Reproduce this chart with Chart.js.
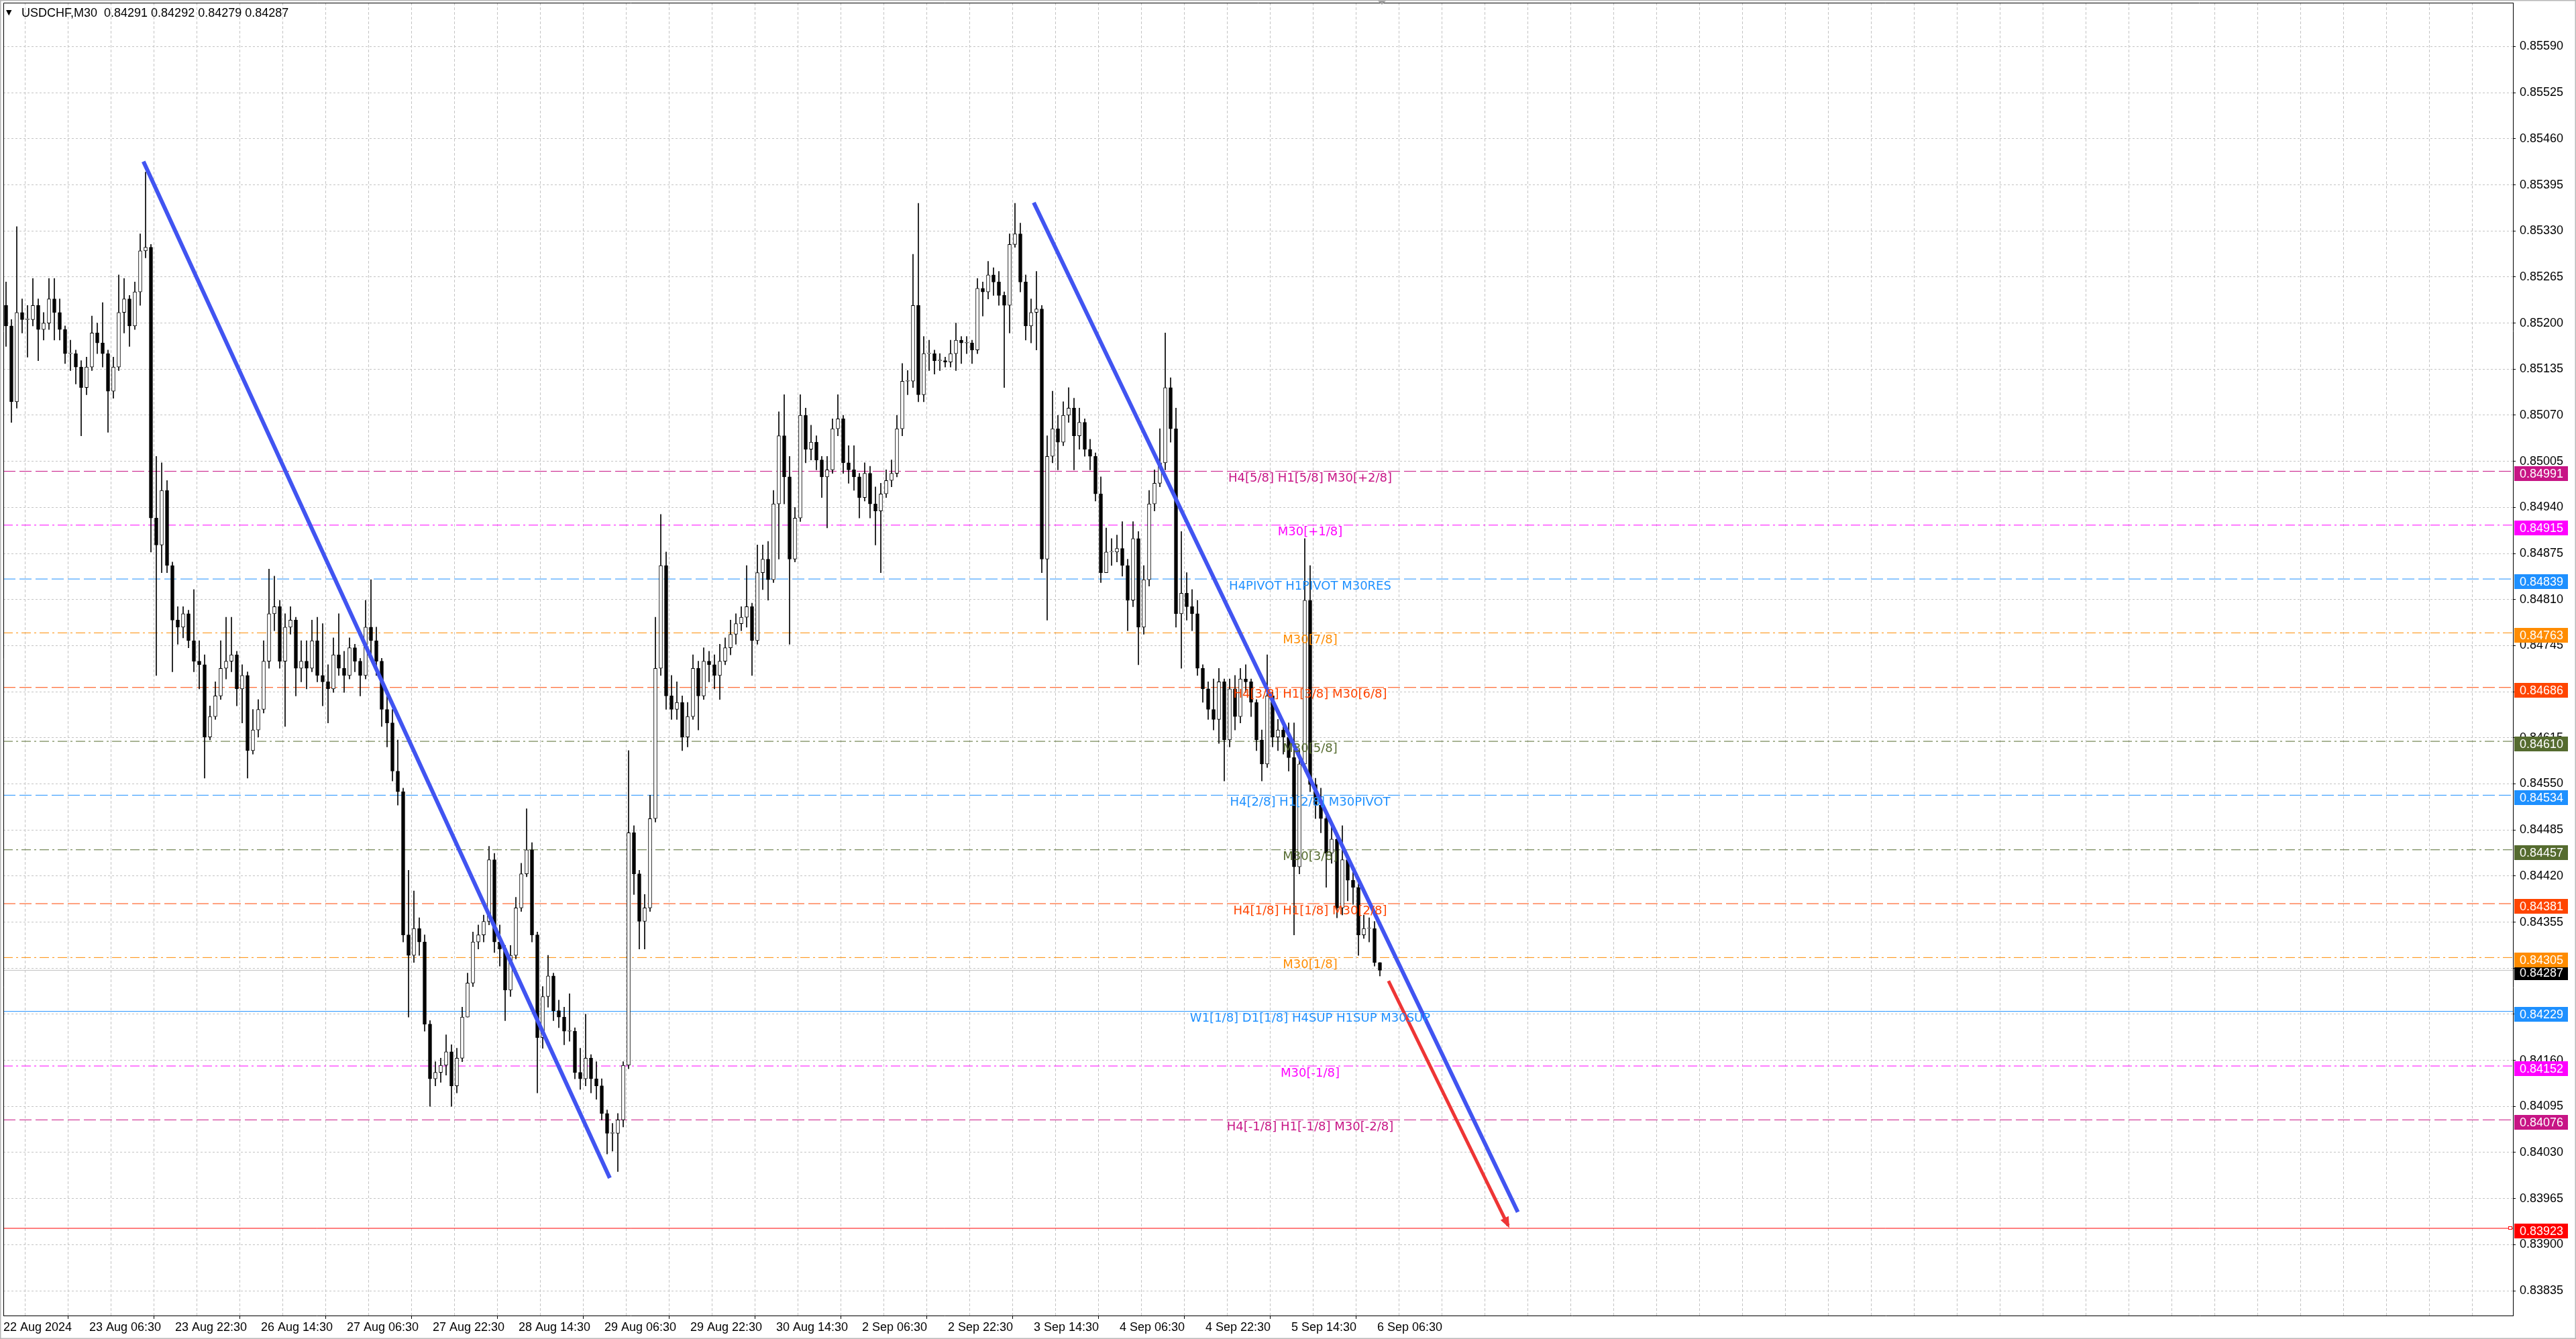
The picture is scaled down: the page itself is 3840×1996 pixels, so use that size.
<!DOCTYPE html>
<html>
<head>
<meta charset="utf-8">
<title>USDCHF,M30</title>
<script src="https://cdn.jsdelivr.net/npm/chart.js@4.4.1/dist/chart.umd.min.js"></script>
<style>
  html, body { margin: 0; padding: 0; background: #fff; overflow: hidden; }
  #wrap { width: 3840px; height: 1996px; position: relative; }
</style>
</head>
<body>
<div id="wrap"><canvas id="chart"></canvas></div>
<script>
// hourly candles (22 Aug 14:30 .. 6 Sep 06:30)
const opens = [
  0.85225, 0.85196, 0.85089, 0.85215, 0.85205, 0.85205, 0.85225, 0.85191, 0.85200, 0.85234,
  0.85215, 0.85191, 0.85157, 0.85157, 0.85138, 0.85109, 0.85138, 0.85186, 0.85172, 0.85157,
  0.85104, 0.85138, 0.85215, 0.85234, 0.85196, 0.85244, 0.85302, 0.85307, 0.84925, 0.84887,
  0.84964, 0.84858, 0.84781, 0.84771, 0.84790, 0.84752, 0.84723, 0.84718, 0.84616, 0.84645,
  0.84674, 0.84713, 0.84723, 0.84732, 0.84684, 0.84703, 0.84597, 0.84626, 0.84655, 0.84723,
  0.84790, 0.84800, 0.84723, 0.84771, 0.84781, 0.84713, 0.84723, 0.84713, 0.84752, 0.84703,
  0.84694, 0.84684, 0.84732, 0.84713, 0.84703, 0.84742, 0.84723, 0.84703, 0.84771, 0.84752,
  0.84723, 0.84655, 0.84636, 0.84568, 0.84539, 0.84337, 0.84308, 0.84346, 0.84327, 0.84211,
  0.84134, 0.84143, 0.84153, 0.84172, 0.84124, 0.84163, 0.84221, 0.84269, 0.84327, 0.84337,
  0.84356, 0.84443, 0.84327, 0.84317, 0.84259, 0.84308, 0.84375, 0.84423, 0.84457, 0.84337,
  0.84192, 0.84250, 0.84279, 0.84230, 0.84221, 0.84201, 0.84201, 0.84143, 0.84134, 0.84163,
  0.84134, 0.84124, 0.84085, 0.84057, 0.84057, 0.84076, 0.84153, 0.84481, 0.84423, 0.84356,
  0.84375, 0.84501, 0.84713, 0.84858, 0.84674, 0.84655, 0.84665, 0.84616, 0.84645, 0.84713,
  0.84674, 0.84723, 0.84718, 0.84703, 0.84723, 0.84742, 0.84761, 0.84776, 0.84785, 0.84800,
  0.84752, 0.84848, 0.84867, 0.84838, 0.84945, 0.85041, 0.84983, 0.84867, 0.84925, 0.85070,
  0.85022, 0.85032, 0.85007, 0.84983, 0.84993, 0.85051, 0.85065, 0.85003, 0.84993, 0.84983,
  0.84954, 0.84988, 0.84945, 0.84935, 0.84959, 0.84978, 0.84988, 0.85051, 0.85118, 0.85118,
  0.85225, 0.85099, 0.85157, 0.85157, 0.85147, 0.85147, 0.85145, 0.85157, 0.85176, 0.85172,
  0.85172, 0.85162, 0.85249, 0.85244, 0.85268, 0.85258, 0.85239, 0.85225, 0.85311, 0.85326,
  0.85258, 0.85196, 0.85215, 0.85220, 0.84867, 0.85012, 0.85051, 0.85032, 0.85070, 0.85080,
  0.85041, 0.85060, 0.85022, 0.85012, 0.84959, 0.84848, 0.84877, 0.84877, 0.84882, 0.84858,
  0.84809, 0.84896, 0.84771, 0.84838, 0.84945, 0.84974, 0.85003, 0.85109, 0.85051, 0.84790,
  0.84819, 0.84800, 0.84790, 0.84713, 0.84684, 0.84655, 0.84641, 0.84694, 0.84612, 0.84684,
  0.84645, 0.84698, 0.84694, 0.84665, 0.84612, 0.84578, 0.84674, 0.84616, 0.84626, 0.84616,
  0.84587, 0.84433, 0.84578, 0.84809, 0.84549, 0.84520, 0.84501, 0.84452, 0.84472, 0.84375,
  0.84443, 0.84414, 0.84404, 0.84337, 0.84346, 0.84346, 0.84298
];
const highs = [
  0.85258, 0.85205, 0.85336, 0.85234, 0.85225, 0.85263, 0.85234, 0.85215, 0.85263, 0.85263,
  0.85234, 0.85196, 0.85176, 0.85162, 0.85147, 0.85152, 0.85210, 0.85200, 0.85229, 0.85162,
  0.85152, 0.85268, 0.85263, 0.85239, 0.85258, 0.85326, 0.85413, 0.85311, 0.85012, 0.85003,
  0.84978, 0.84863, 0.84800, 0.84800, 0.84795, 0.84824, 0.84752, 0.84732, 0.84660, 0.84694,
  0.84752, 0.84785, 0.84785, 0.84737, 0.84718, 0.84708, 0.84655, 0.84669, 0.84752, 0.84853,
  0.84843, 0.84809, 0.84790, 0.84800, 0.84785, 0.84752, 0.84752, 0.84781, 0.84785, 0.84776,
  0.84718, 0.84756, 0.84790, 0.84737, 0.84756, 0.84747, 0.84727, 0.84809, 0.84838, 0.84771,
  0.84727, 0.84679, 0.84655, 0.84612, 0.84544, 0.84428, 0.84399, 0.84361, 0.84337, 0.84216,
  0.84158, 0.84163, 0.84196, 0.84182, 0.84177, 0.84235, 0.84283, 0.84341, 0.84351, 0.84365,
  0.84462, 0.84452, 0.84351, 0.84322, 0.84322, 0.84390, 0.84438, 0.84515, 0.84467, 0.84341,
  0.84264, 0.84308, 0.84283, 0.84245, 0.84235, 0.84254, 0.84206, 0.84177, 0.84225, 0.84168,
  0.84158, 0.84134, 0.84090, 0.84071, 0.84085, 0.84158, 0.84597, 0.84491, 0.84428, 0.84394,
  0.84534, 0.84785, 0.84930, 0.84877, 0.84703, 0.84694, 0.84674, 0.84665, 0.84732, 0.84723,
  0.84742, 0.84737, 0.84732, 0.84747, 0.84756, 0.84781, 0.84790, 0.84800, 0.84858, 0.84805,
  0.84887, 0.84887, 0.84892, 0.84964, 0.85075, 0.85099, 0.85012, 0.84940, 0.85099, 0.85080,
  0.85056, 0.85041, 0.85012, 0.85012, 0.85065, 0.85099, 0.85070, 0.85027, 0.85027, 0.84988,
  0.85003, 0.84998, 0.84969, 0.84974, 0.84993, 0.85007, 0.85070, 0.85143, 0.85133, 0.85297,
  0.85369, 0.85181, 0.85176, 0.85162, 0.85157, 0.85152, 0.85176, 0.85200, 0.85181, 0.85181,
  0.85176, 0.85263, 0.85258, 0.85287, 0.85278, 0.85273, 0.85244, 0.85326, 0.85369, 0.85341,
  0.85268, 0.85234, 0.85273, 0.85225, 0.85041, 0.85104, 0.85070, 0.85089, 0.85109, 0.85094,
  0.85080, 0.85065, 0.85036, 0.85017, 0.84983, 0.84911, 0.84896, 0.84901, 0.84920, 0.84867,
  0.84920, 0.84906, 0.84858, 0.84964, 0.84993, 0.85051, 0.85186, 0.85123, 0.85080, 0.84906,
  0.84848, 0.84824, 0.84809, 0.84718, 0.84694, 0.84698, 0.84713, 0.84698, 0.84698, 0.84703,
  0.84713, 0.84718, 0.84698, 0.84669, 0.84626, 0.84732, 0.84679, 0.84641, 0.84636, 0.84636,
  0.84636, 0.84597, 0.84896, 0.84858, 0.84558, 0.84544, 0.84510, 0.84491, 0.84476, 0.84491,
  0.84443, 0.84428, 0.84409, 0.84365, 0.84361, 0.84356, 0.84298
];
const lows = [
  0.85167, 0.85060, 0.85080, 0.85186, 0.85152, 0.85196, 0.85147, 0.85176, 0.85191, 0.85176,
  0.85176, 0.85143, 0.85133, 0.85114, 0.85041, 0.85099, 0.85133, 0.85157, 0.85138, 0.85046,
  0.85094, 0.85133, 0.85186, 0.85167, 0.85191, 0.85225, 0.85292, 0.84877, 0.84703, 0.84848,
  0.84848, 0.84708, 0.84747, 0.84756, 0.84742, 0.84708, 0.84684, 0.84558, 0.84612, 0.84641,
  0.84669, 0.84698, 0.84708, 0.84660, 0.84636, 0.84558, 0.84592, 0.84616, 0.84650, 0.84713,
  0.84766, 0.84713, 0.84631, 0.84761, 0.84674, 0.84694, 0.84684, 0.84708, 0.84694, 0.84660,
  0.84636, 0.84679, 0.84703, 0.84679, 0.84698, 0.84708, 0.84674, 0.84698, 0.84732, 0.84703,
  0.84631, 0.84602, 0.84554, 0.84520, 0.84327, 0.84221, 0.84298, 0.84308, 0.84201, 0.84095,
  0.84124, 0.84129, 0.84139, 0.84095, 0.84114, 0.84158, 0.84221, 0.84264, 0.84317, 0.84327,
  0.84351, 0.84312, 0.84293, 0.84216, 0.84250, 0.84303, 0.84370, 0.84419, 0.84327, 0.84114,
  0.84177, 0.84235, 0.84216, 0.84206, 0.84182, 0.84187, 0.84134, 0.84119, 0.84124, 0.84114,
  0.84105, 0.84076, 0.84028, 0.84032, 0.84003, 0.84066, 0.84148, 0.84394, 0.84317, 0.84317,
  0.84370, 0.84496, 0.84703, 0.84655, 0.84641, 0.84641, 0.84597, 0.84602, 0.84641, 0.84626,
  0.84669, 0.84694, 0.84684, 0.84669, 0.84718, 0.84732, 0.84747, 0.84766, 0.84771, 0.84703,
  0.84747, 0.84824, 0.84809, 0.84834, 0.84867, 0.84945, 0.84747, 0.84863, 0.84920, 0.85003,
  0.85007, 0.84993, 0.84954, 0.84911, 0.84988, 0.85041, 0.84988, 0.84974, 0.84964, 0.84925,
  0.84949, 0.84925, 0.84887, 0.84848, 0.84954, 0.84969, 0.84983, 0.85041, 0.85099, 0.85109,
  0.85089, 0.85089, 0.85133, 0.85128, 0.85133, 0.85138, 0.85138, 0.85133, 0.85143, 0.85157,
  0.85143, 0.85157, 0.85210, 0.85234, 0.85239, 0.85225, 0.85109, 0.85186, 0.85307, 0.85244,
  0.85176, 0.85172, 0.85162, 0.84848, 0.84781, 0.85003, 0.84993, 0.85027, 0.85060, 0.84993,
  0.85022, 0.85012, 0.84993, 0.84949, 0.84834, 0.84848, 0.84858, 0.84863, 0.84843, 0.84766,
  0.84800, 0.84718, 0.84761, 0.84829, 0.84935, 0.84969, 0.84993, 0.85032, 0.84771, 0.84713,
  0.84781, 0.84766, 0.84703, 0.84665, 0.84641, 0.84626, 0.84607, 0.84554, 0.84602, 0.84626,
  0.84636, 0.84679, 0.84645, 0.84597, 0.84554, 0.84573, 0.84602, 0.84597, 0.84592, 0.84568,
  0.84337, 0.84423, 0.84568, 0.84539, 0.84501, 0.84481, 0.84404, 0.84438, 0.84361, 0.84365,
  0.84385, 0.84380, 0.84308, 0.84332, 0.84327, 0.84293, 0.84279
];
const closes = [
  0.85196, 0.85089, 0.85215, 0.85205, 0.85205, 0.85225, 0.85191, 0.85200, 0.85234, 0.85215,
  0.85191, 0.85157, 0.85157, 0.85138, 0.85109, 0.85138, 0.85186, 0.85172, 0.85157, 0.85104,
  0.85138, 0.85215, 0.85234, 0.85196, 0.85244, 0.85302, 0.85307, 0.84925, 0.84887, 0.84964,
  0.84858, 0.84781, 0.84771, 0.84790, 0.84752, 0.84723, 0.84718, 0.84616, 0.84645, 0.84674,
  0.84713, 0.84723, 0.84732, 0.84684, 0.84703, 0.84597, 0.84626, 0.84655, 0.84723, 0.84790,
  0.84800, 0.84723, 0.84771, 0.84781, 0.84713, 0.84723, 0.84713, 0.84752, 0.84703, 0.84694,
  0.84684, 0.84732, 0.84713, 0.84703, 0.84742, 0.84723, 0.84703, 0.84771, 0.84752, 0.84723,
  0.84655, 0.84636, 0.84568, 0.84539, 0.84337, 0.84308, 0.84346, 0.84327, 0.84211, 0.84134,
  0.84143, 0.84153, 0.84172, 0.84124, 0.84163, 0.84221, 0.84269, 0.84327, 0.84337, 0.84356,
  0.84443, 0.84327, 0.84317, 0.84259, 0.84308, 0.84375, 0.84423, 0.84457, 0.84337, 0.84192,
  0.84250, 0.84279, 0.84230, 0.84221, 0.84201, 0.84201, 0.84143, 0.84134, 0.84163, 0.84134,
  0.84124, 0.84085, 0.84057, 0.84057, 0.84076, 0.84153, 0.84481, 0.84423, 0.84356, 0.84375,
  0.84501, 0.84713, 0.84858, 0.84674, 0.84655, 0.84665, 0.84616, 0.84645, 0.84713, 0.84674,
  0.84723, 0.84718, 0.84703, 0.84723, 0.84742, 0.84761, 0.84776, 0.84785, 0.84800, 0.84752,
  0.84848, 0.84867, 0.84838, 0.84945, 0.85041, 0.84983, 0.84867, 0.84925, 0.85070, 0.85022,
  0.85032, 0.85007, 0.84983, 0.84993, 0.85051, 0.85065, 0.85003, 0.84993, 0.84983, 0.84954,
  0.84988, 0.84945, 0.84935, 0.84959, 0.84978, 0.84988, 0.85051, 0.85118, 0.85118, 0.85225,
  0.85099, 0.85157, 0.85157, 0.85147, 0.85147, 0.85145, 0.85157, 0.85176, 0.85172, 0.85172,
  0.85162, 0.85249, 0.85244, 0.85268, 0.85258, 0.85239, 0.85225, 0.85311, 0.85326, 0.85258,
  0.85196, 0.85215, 0.85220, 0.84867, 0.85012, 0.85051, 0.85032, 0.85070, 0.85080, 0.85041,
  0.85060, 0.85022, 0.85012, 0.84959, 0.84848, 0.84877, 0.84877, 0.84882, 0.84858, 0.84809,
  0.84896, 0.84771, 0.84838, 0.84945, 0.84974, 0.85003, 0.85109, 0.85051, 0.84790, 0.84819,
  0.84800, 0.84790, 0.84713, 0.84684, 0.84655, 0.84641, 0.84694, 0.84612, 0.84684, 0.84645,
  0.84698, 0.84694, 0.84665, 0.84612, 0.84578, 0.84674, 0.84616, 0.84626, 0.84616, 0.84587,
  0.84433, 0.84578, 0.84809, 0.84549, 0.84520, 0.84501, 0.84452, 0.84472, 0.84375, 0.84443,
  0.84414, 0.84404, 0.84337, 0.84346, 0.84346, 0.84298, 0.84287
];

const timeLabels = ['22 Aug 2024', '23 Aug 06:30', '23 Aug 22:30', '26 Aug 14:30', '27 Aug 06:30',
  '27 Aug 22:30', '28 Aug 14:30', '29 Aug 06:30', '29 Aug 22:30', '30 Aug 14:30', '2 Sep 06:30',
  '2 Sep 22:30', '3 Sep 14:30', '4 Sep 06:30', '4 Sep 22:30', '5 Sep 14:30', '6 Sep 06:30'];

const priceTicks = [0.83835, 0.83900, 0.83965, 0.84030, 0.84095, 0.84160, 0.84225, 0.84290,
  0.84355, 0.84420, 0.84485, 0.84550, 0.84615, 0.84680, 0.84745, 0.84810, 0.84875, 0.84940,
  0.85005, 0.85070, 0.85135, 0.85200, 0.85265, 0.85330, 0.85395, 0.85460, 0.85525, 0.85590];

const levelPrices = [0.84991, 0.84915, 0.84839, 0.84763, 0.84686, 0.84610, 0.84534,
  0.84457, 0.84381, 0.84305, 0.84229, 0.84152, 0.84076];
const levelNames = ['H4[5/8] H1[5/8] M30[+2/8]', 'M30[+1/8]', 'H4PIVOT H1PIVOT M30RES', 'M30[7/8]',
  'H4[3/8] H1[3/8] M30[6/8]', 'M30[5/8]', 'H4[2/8] H1[2/8] M30PIVOT', 'M30[3/8]',
  'H4[1/8] H1[1/8] M30[2/8]', 'M30[1/8]', 'W1[1/8] D1[1/8] H4SUP H1SUP M30SUP', 'M30[-1/8]',
  'H4[-1/8] H1[-1/8] M30[-2/8]'];

const lastPrice = 0.84287;
const targetPrice = 0.83923;
const titleText = 'USDCHF,M30  0.84291 0.84292 0.84279 0.84287';

// drawn objects, [bar index, price]
const trendA = [[25.6, 0.85428], [112.5, 0.83994]];
const trendB = [[191.5, 0.85370], [281.7, 0.83946]];
const arrowPath = [[257.6, 0.84272], [279.9, 0.83927]];

// styles
const LONG = [18, 6];
const DASHDOT = [14, 5, 3, 5];
const levelColors = ['#c71585', '#ff00ff', '#1e90ff', '#ff8c00', '#ff4500', '#556b2f', '#1e90ff',
  '#556b2f', '#ff4500', '#ff8c00', '#1e90ff', '#ff00ff', '#c71585'];
const levelDashes = [LONG, DASHDOT, LONG, DASHDOT, LONG, DASHDOT, LONG, DASHDOT, LONG, DASHDOT, [], DASHDOT, LONG];

const X_MIN = -0.5, X_MAX = 467.125;
const Y_MIN = 0.83800, Y_MAX = 0.85652;
const CAPTION_BAR = 243;
const GRID = '#c4c4c4';

const toPts = arr => arr.map(([x, y]) => ({ x, y }));
const flat = p => [{ x: X_MIN, y: p }, { x: X_MAX, y: p }];

const datasets = [
  { type: 'line', data: toPts(trendA), borderColor: '#4154f1', borderWidth: 6, pointRadius: 0, order: 0 },
  { type: 'line', data: toPts(trendB), borderColor: '#4154f1', borderWidth: 6, pointRadius: 0, order: 0 },
  { type: 'line', data: toPts(arrowPath), borderColor: '#ee3535', borderWidth: 5, pointRadius: 0, order: 0 },
  {
    type: 'bar', data: opens.map((o, i) => ({ x: i, y: [o, closes[i]] })),
    backgroundColor: opens.map((o, i) => closes[i] >= o ? '#ffffff' : '#000000'),
    borderColor: '#000', borderWidth: 1, borderSkipped: false,
    barThickness: 5, minBarLength: 1, grouped: false, order: 1
  },
  {
    type: 'bar', data: lows.map((l, i) => ({ x: i, y: [l, highs[i]] })),
    backgroundColor: '#000', borderWidth: 0, barThickness: 1, grouped: false, order: 2
  },
  { type: 'line', data: flat(lastPrice), borderColor: '#c0c0c0', borderWidth: 1, pointRadius: 0, order: 3 },
  { type: 'line', data: flat(targetPrice), borderColor: '#ff0000', borderWidth: 1, pointRadius: 0, order: 3 }
];
levelPrices.forEach((p, i) => {
  datasets.push({ type: 'line', data: flat(p), borderColor: levelColors[i], borderWidth: 1,
    borderDash: levelDashes[i], pointRadius: 0, order: 3 });
});

function priceBox(ctx, area, yScale, price, color) {
  const py = Math.round(yScale.getPixelForValue(price)) + 4;
  ctx.fillStyle = color;
  ctx.fillRect(area.right + 2, py - 11, 80, 22);
  ctx.fillStyle = '#fff';
  ctx.fillText(price.toFixed(5), area.right + 10, py + 1);
}

const overlay = {
  id: 'overlay',
  afterDatasetsDraw(chart) {
    const { ctx, chartArea: a, scales: { x, y } } = chart;
    ctx.save();
    ctx.font = '18px "DejaVu Sans"';
    ctx.textAlign = 'center';
    ctx.textBaseline = 'middle';
    const cx = x.getPixelForValue(CAPTION_BAR);
    levelPrices.forEach((p, i) => {
      ctx.fillStyle = levelColors[i];
      ctx.fillText(levelNames[i], cx, y.getPixelForValue(p) + 11);
    });

    // arrow head
    const pts = chart.getDatasetMeta(2).data;
    const p0 = pts[0], p1 = pts[1];
    const ang = Math.atan2(p1.y - p0.y, p1.x - p0.x);
    ctx.fillStyle = '#ee3535';
    ctx.beginPath();
    ctx.moveTo(p1.x + Math.cos(ang) * 4, p1.y + Math.sin(ang) * 4);
    ctx.lineTo(p1.x - Math.cos(ang - 0.5) * 14, p1.y - Math.sin(ang - 0.5) * 14);
    ctx.lineTo(p1.x - Math.cos(ang + 0.5) * 14, p1.y - Math.sin(ang + 0.5) * 14);
    ctx.closePath();
    ctx.fill();

    // small marker at the end of the target line
    const ty = Math.round(y.getPixelForValue(targetPrice));
    ctx.strokeStyle = '#ff0000';
    ctx.lineWidth = 1;
    ctx.fillStyle = '#fff';
    ctx.fillRect(a.right - 6, ty - 2, 5, 4);
    ctx.strokeRect(a.right - 6.5, ty - 2.5, 5, 4);
    ctx.restore();
  },
  afterDraw(chart) {
    const { ctx, chartArea: a, scales: { x, y } } = chart;
    ctx.save();
    // price labels on the axis
    ctx.font = '18px "Liberation Sans"';
    ctx.textAlign = 'left';
    ctx.textBaseline = 'middle';
    priceBox(ctx, a, y, lastPrice, '#000000');
    levelPrices.forEach((p, i) => priceBox(ctx, a, y, p, levelColors[i]));
    priceBox(ctx, a, y, targetPrice, '#ff0000');

    // frame
    ctx.strokeStyle = '#000';
    ctx.lineWidth = 1;
    ctx.beginPath();
    ctx.moveTo(a.left + 0.5, a.bottom);
    ctx.lineTo(a.left + 0.5, a.top + 0.5);
    ctx.lineTo(a.right, a.top + 0.5);
    ctx.stroke();
    ctx.strokeStyle = '#b8b8b8';
    ctx.lineWidth = 3;
    ctx.strokeRect(0, 0, chart.width, chart.height);

    // shift marker
    const mx = x.getPixelForValue(closes.length - 1) + 3;
    ctx.fillStyle = '#a0a0a0';
    ctx.beginPath();
    ctx.moveTo(mx - 6, 1);
    ctx.lineTo(mx + 6, 1);
    ctx.lineTo(mx, 7);
    ctx.closePath();
    ctx.fill();

    // title
    ctx.fillStyle = '#000';
    ctx.font = '11px "DejaVu Sans"';
    ctx.fillText('\u25BC', 9, 19);
    ctx.font = '18px "Liberation Sans"';
    ctx.fillText(titleText, 32, 20);
    ctx.restore();
  }
};

new Chart(document.getElementById('chart'), {
  type: 'bar',
  data: { datasets },
  plugins: [overlay],
  options: {
    responsive: true,
    maintainAspectRatio: false,
    devicePixelRatio: 1,
    animation: false,
    events: [],
    layout: { padding: { left: 5, top: 4, right: 0, bottom: 0 } },
    plugins: { legend: { display: false }, tooltip: { enabled: false } },
    elements: { line: { tension: 0, borderCapStyle: 'butt' } },
    scales: {
      x: {
        type: 'linear', min: X_MIN, max: X_MAX, offset: false,
        afterBuildTicks(axis) {
          const t = [];
          for (let v = X_MIN; v <= X_MAX; v += 8) t.push({ value: v });
          axis.ticks = t;
        },
        afterFit(axis) {
          axis.height = 35;
          axis.paddingLeft = 0; axis.paddingRight = 0;
        },
        grid: {
          color: GRID, lineWidth: 1, tickLength: 5,
          tickColor: c => (c.index % 2 === 0 && c.index / 2 < timeLabels.length) ? '#000' : 'rgba(0,0,0,0)'
        },
        border: { display: true, color: '#000', width: 1, dash: [4, 3] },
        ticks: {
          autoSkip: false, maxRotation: 0, align: 'start', padding: 2,
          color: '#000', font: { family: 'Liberation Sans', size: 18 },
          callback: (v, i) => (i % 2 === 0 && timeLabels[i / 2]) ? timeLabels[i / 2] : ''
        }
      },
      y: {
        type: 'linear', position: 'right', min: Y_MIN, max: Y_MAX,
        afterBuildTicks(axis) { axis.ticks = priceTicks.map(v => ({ value: v })); },
        afterFit(axis) {
          axis.width = 94;
          axis.paddingTop = 0; axis.paddingBottom = 0;
        },
        grid: { color: GRID, lineWidth: 1, tickLength: 4, tickColor: '#000' },
        border: { display: true, color: '#000', width: 1, dash: [3, 3] },
        ticks: {
          autoSkip: false, padding: 6, color: '#000',
          font: { family: 'Liberation Sans', size: 18 },
          callback: v => Number(v).toFixed(5)
        }
      }
    }
  }
});
</script>
</body>
</html>
